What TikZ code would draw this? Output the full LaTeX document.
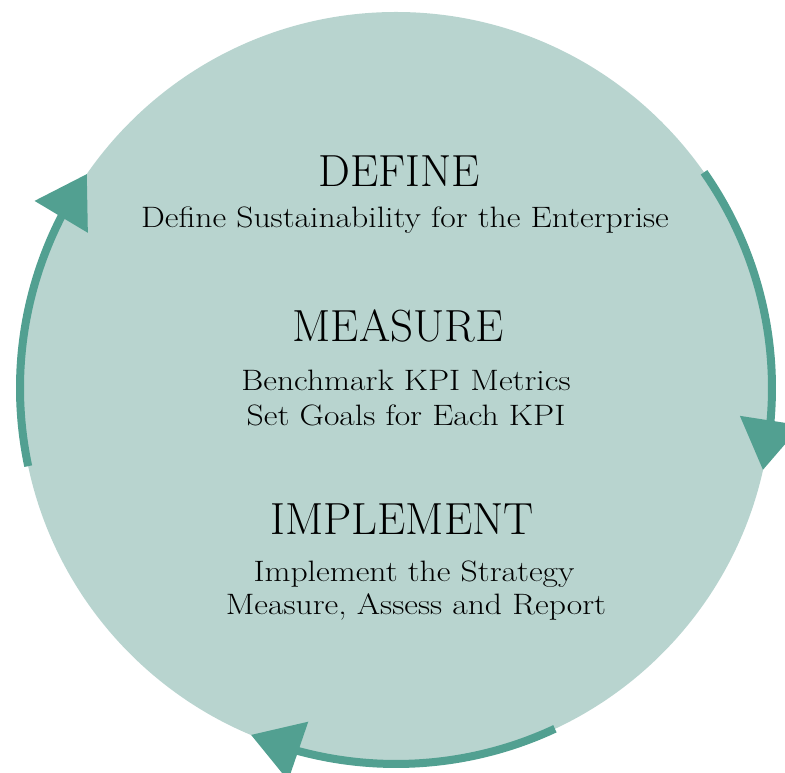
\documentclass[tikz,border=0pt]{standalone}
\usepackage{fontspec}
\usepackage{tikz}
\usetikzlibrary{arrows.meta, bending}
\newfontfamily\widerm[FakeStretch=1.14]{Latin Modern Roman}
\definecolor{pale}{RGB}{184, 212, 207}
\definecolor{sea}{RGB}{82, 160, 145}

\begin{document}
\begin{tikzpicture}[x=1pt, y=1pt,
  title/.style={anchor=base, inner sep=0, font=\fontsize{45}{54}\selectfont},
  body/.style={anchor=base, inner sep=0, font=\widerm\fontsize{29.5}{35}\selectfont},
  turn/.style={sea, line width=8, -{Triangle[length=50pt, width=60pt, flex]}}]

  \useasboundingbox (0, 0) rectangle (785, 773);

  % the disc
  \coordinate (hub) at (396, 385);
  \fill[pale] (hub) circle (376);

  % arrows round the rim
  \draw[turn] ([shift={(35:376)}]hub) arc (35:-12.6:376);
  \draw[turn] ([shift={(-65:376)}]hub) arc (-65:-112.7:376);
  \draw[turn] ([shift={(192:376)}]hub) arc (192:145.3:376);

  % the three steps
  \node[title] (define) at (399, 586) {DEFINE};
  \node[body] (definetxt) at (405, 545) {Define Sustainability for the Enterprise};

  \node[title] (measure) at (398, 431) {MEASURE};
  \node[body] (bench) at (406, 382) {Benchmark KPI Metrics};
  \node[body] (goals) at (406, 347) {Set Goals for Each KPI};

  \node[title] (implement) at (402, 238) {IMPLEMENT};
  \node[body] (strategy) at (414, 191) {Implement the Strategy};
  \node[body] (report) at (416, 158) {Measure, Assess and Report};

\end{tikzpicture}
\end{document}
